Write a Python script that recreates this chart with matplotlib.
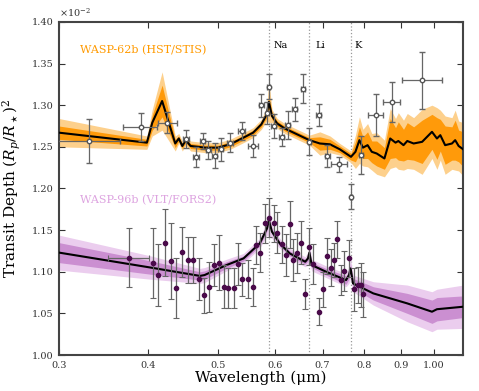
import numpy as np
import matplotlib
matplotlib.use("Agg")
import matplotlib.pyplot as plt
from matplotlib.ticker import FixedLocator, FixedFormatter, NullLocator

plt.rcParams['font.family'] = ['DejaVu Serif']
plt.rcParams['mathtext.fontset'] = 'dejavuserif'

# WASP-62b (HST/STIS) spectrum
w62_x = [0.330, 0.390, 0.425, 0.451, 0.466, 0.476, 0.485, 0.495, 0.505, 0.520,
         0.540, 0.560, 0.575, 0.586, 0.589, 0.598, 0.614, 0.626, 0.640, 0.657,
         0.671, 0.691, 0.711, 0.739, 0.767, 0.792, 0.831, 0.874, 0.965]
w62_y = [1.257, 1.274, 1.279, 1.259, 1.238, 1.257, 1.246, 1.239, 1.247, 1.255,
         1.269, 1.251, 1.300, 1.291, 1.322, 1.275, 1.262, 1.276, 1.295, 1.320,
         1.256, 1.288, 1.239, 1.229, 1.190, 1.240, 1.288, 1.304, 1.330]
w62_yerr = [0.026, 0.017, 0.013, 0.011, 0.012, 0.010, 0.011, 0.015, 0.014, 0.011,
            0.011, 0.013, 0.014, 0.013, 0.015, 0.015, 0.011, 0.017, 0.014, 0.017,
            0.016, 0.013, 0.013, 0.009, 0.015, 0.023, 0.025, 0.024, 0.034]
w62_xerr = [0.035, 0.021, 0.013, 0.004, 0.004, 0.004, 0.004, 0.004, 0.004, 0.005,
            0.006, 0.009, 0.004, 0.003, 0.003, 0.004, 0.005, 0.005, 0.005, 0.004,
            0.004, 0.005, 0.005, 0.019, 0.003, 0.004, 0.020, 0.025, 0.062]

# WASP-62b model + 1/2 sigma half widths
m62_x = [0.300, 0.398, 0.405, 0.418, 0.436, 0.441, 0.446, 0.451, 0.458, 0.480,
         0.500, 0.520, 0.540, 0.560, 0.575, 0.585, 0.589, 0.595, 0.605, 0.620,
         0.645, 0.671, 0.694, 0.717, 0.740, 0.767, 0.778, 0.788, 0.797, 0.809,
         0.820, 0.833, 0.854, 0.870, 0.885, 0.893, 0.908, 0.919, 0.938, 0.964,
         0.995, 1.011, 1.022, 1.038, 1.061, 1.072, 1.084, 1.100]
m62_y = [1.267, 1.255, 1.279, 1.305, 1.254, 1.260, 1.251, 1.258, 1.251, 1.249,
         1.249, 1.253, 1.260, 1.267, 1.277, 1.289, 1.304, 1.287, 1.278, 1.272,
         1.265, 1.258, 1.254, 1.253, 1.247, 1.238, 1.244, 1.258, 1.249, 1.252,
         1.244, 1.242, 1.236, 1.260, 1.255, 1.257, 1.252, 1.257, 1.254, 1.256,
         1.268, 1.260, 1.264, 1.252, 1.254, 1.258, 1.251, 1.247]
m62_s1 = [0.008, 0.004, 0.009, 0.019, 0.005, 0.003, 0.003, 0.003, 0.003, 0.003,
          0.003, 0.003, 0.003, 0.003, 0.003, 0.004, 0.008, 0.004, 0.003, 0.003,
          0.003, 0.003, 0.008, 0.006, 0.004, 0.004, 0.012, 0.016, 0.013, 0.016,
          0.013, 0.015, 0.013, 0.024, 0.018, 0.023, 0.019, 0.022, 0.020, 0.026,
          0.021, 0.025, 0.019, 0.023, 0.020, 0.024, 0.019, 0.021]
m62_s2 = [0.017, 0.008, 0.016, 0.035, 0.009, 0.006, 0.006, 0.006, 0.006, 0.006,
          0.006, 0.006, 0.006, 0.006, 0.006, 0.008, 0.025, 0.008, 0.006, 0.006,
          0.006, 0.006, 0.014, 0.010, 0.007, 0.007, 0.020, 0.028, 0.022, 0.026,
          0.022, 0.025, 0.022, 0.036, 0.029, 0.034, 0.030, 0.033, 0.031, 0.039,
          0.032, 0.037, 0.030, 0.035, 0.031, 0.036, 0.030, 0.032]

# WASP-96b (VLT/FORS2) spectrum
w96_x = [0.376, 0.406, 0.413, 0.422, 0.430, 0.437, 0.446, 0.454, 0.462, 0.470,
         0.478, 0.486, 0.494, 0.502, 0.510, 0.517, 0.526, 0.534, 0.541, 0.550,
         0.559, 0.565, 0.573, 0.581, 0.589, 0.598, 0.605, 0.614, 0.622, 0.630,
         0.637, 0.645, 0.653, 0.662, 0.671, 0.678, 0.691, 0.702, 0.711, 0.719,
         0.726, 0.734, 0.742, 0.751, 0.763, 0.775, 0.785, 0.791, 0.798]
w96_y = [1.117, 1.111, 1.096, 1.135, 1.113, 1.081, 1.124, 1.114, 1.114, 1.091,
         1.072, 1.082, 1.108, 1.111, 1.082, 1.081, 1.081, 1.109, 1.091, 1.091,
         1.082, 1.132, 1.123, 1.158, 1.165, 1.158, 1.147, 1.133, 1.120, 1.157,
         1.114, 1.123, 1.135, 1.073, 1.130, 1.109, 1.052, 1.079, 1.119, 1.105,
         1.114, 1.139, 1.090, 1.101, 1.116, 1.079, 1.084, 1.084, 1.073]
w96_yerr = [0.035, 0.042, 0.037, 0.040, 0.046, 0.036, 0.030, 0.028, 0.028, 0.025,
            0.021, 0.030, 0.025, 0.033, 0.026, 0.024, 0.024, 0.025, 0.020, 0.023,
            0.023, 0.023, 0.023, 0.023, 0.023, 0.022, 0.025, 0.022, 0.025, 0.028,
            0.025, 0.024, 0.026, 0.018, 0.022, 0.024, 0.016, 0.021, 0.022, 0.022,
            0.020, 0.022, 0.018, 0.024, 0.022, 0.026, 0.022, 0.026, 0.027]
w96_xerr = [0.025] + [0.0] * 48

# WASP-96b model
m96_x = [0.300, 0.403, 0.472, 0.479, 0.514, 0.543, 0.572, 0.5855, 0.589, 0.595,
         0.610, 0.630, 0.662, 0.668, 0.671, 0.676, 0.708, 0.755, 0.762, 0.766,
         0.772, 0.824, 0.919, 0.995, 1.011, 1.100]
m96_y = [1.123, 1.105, 1.095, 1.096, 1.108, 1.116, 1.134, 1.152, 1.162, 1.148,
         1.134, 1.122, 1.112, 1.116, 1.123, 1.108, 1.100, 1.090, 1.096, 1.104,
         1.086, 1.074, 1.062, 1.052, 1.055, 1.058]
m96_s1 = [0.012, 0.008, 0.005, 0.005, 0.004, 0.003, 0.003, 0.003, 0.004, 0.003,
          0.003, 0.003, 0.003, 0.003, 0.004, 0.003, 0.004, 0.005, 0.005, 0.005,
          0.006, 0.008, 0.012, 0.014, 0.014, 0.013]
m96_s2 = [0.021, 0.014, 0.009, 0.009, 0.007, 0.006, 0.006, 0.008, 0.020, 0.008,
          0.006, 0.006, 0.006, 0.008, 0.012, 0.007, 0.007, 0.008, 0.010, 0.012,
          0.010, 0.014, 0.022, 0.024, 0.024, 0.026]

lines_x = [0.589, 0.6708, 0.7665]
xticks = [0.3, 0.4, 0.5, 0.6, 0.7, 0.8, 0.9, 1.0]
xticklabels = ['0.3', '0.4', '0.5', '0.6', '0.7', '0.8', '0.9', '1.00']
yticks = [1.00, 1.05, 1.10, 1.15, 1.20, 1.25, 1.30, 1.35, 1.40]

fig = plt.figure(figsize=(4.79, 3.91), dpi=100)
ax = fig.add_axes([0.123, 0.092, 0.844, 0.852])

def band(ax, x, y, s1, s2, light, dark):
    x, y, s1, s2 = map(np.asarray, (x, y, s1, s2))
    ax.fill_between(x, y - s2, y + s2, color=light, lw=0, zorder=1)
    ax.fill_between(x, y - s1, y + s1, color=dark, lw=0, zorder=2)
    ax.plot(x, y, color='black', lw=1.5, zorder=3)

band(ax, m62_x, m62_y, m62_s1, m62_s2, '#fdd08c', '#ff9a0a')
band(ax, m96_x, m96_y, m96_s1, m96_s2, '#ebcdee', '#cb8fd1')

for lx in lines_x:
    ax.axvline(lx, color='#999999', ls=':', lw=0.9, zorder=0)
ax.text(0.599, 1.372, 'Na', fontsize=7, va='center')
ax.text(0.685, 1.372, 'Li', fontsize=7, va='center')
ax.text(0.775, 1.372, 'K', fontsize=7, va='center')

ax.errorbar(w62_x, w62_y, yerr=w62_yerr, xerr=w62_xerr, fmt='o', ms=3.2,
            mfc='white', mec='#555555', mew=1.0, ecolor='#666666',
            elinewidth=0.9, capsize=2, capthick=0.8, zorder=5)
ax.errorbar(w96_x, w96_y, yerr=w96_yerr, xerr=w96_xerr, fmt='o', ms=3.0,
            mfc='#4a0a4a', mec='#4a0a4a', ecolor='#666666',
            elinewidth=0.9, capsize=2, capthick=0.8, zorder=5)

ax.text(0.321, 1.366, 'WASP-62b (HST/STIS)', color='#ff9a00', fontsize=8, va='center')
ax.text(0.321, 1.186, 'WASP-96b (VLT/FORS2)', color='#dda3e0', fontsize=8, va='center')

ax.set_xscale('log')
ax.set_xlim(0.3, 1.10)
ax.set_ylim(1.00, 1.40)
ax.xaxis.set_major_locator(FixedLocator(xticks))
ax.xaxis.set_major_formatter(FixedFormatter(xticklabels))
ax.xaxis.set_minor_locator(NullLocator())
ax.set_yticks(yticks)
ax.set_yticklabels(['%.2f' % v for v in yticks])
ax.tick_params(direction='in', top=True, right=True, labelsize=7, length=4,
               width=0.8, colors='#333333', labelcolor='#333333', pad=4)
for sp in ax.spines.values():
    sp.set_linewidth(1.5)
    sp.set_color('#444444')

ax.text(0.0, 1.008, r'$\times10^{-2}$', transform=ax.transAxes, fontsize=7,
        color='#333333', va='bottom')
ax.set_xlabel('Wavelength (μm)', fontsize=11, labelpad=1)
ax.set_ylabel(r'Transit Depth $(R_p/R_\star)^2$', fontsize=11, labelpad=6)

fig.savefig('out.png', dpi=100)
